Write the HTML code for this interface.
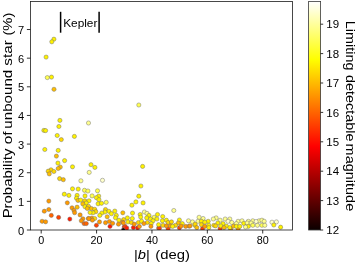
<!DOCTYPE html>
<html><head><meta charset="utf-8"><title>chart</title>
<style>
html,body{margin:0;padding:0;background:#fff;}
svg{display:block;font-family:"Liberation Sans",sans-serif;}
.tk{stroke:#000;stroke-width:0.8;}
.tl{font-size:10.4px;fill:#000;}
.lb{font-size:13.6px;fill:#000;}
circle{stroke:#6a6a6a;stroke-width:0.45;}
</style></head><body>
<svg width="357" height="264" viewBox="0 0 357 264">
<defs>
<linearGradient id="hot" x1="0" y1="1" x2="0" y2="0">
<stop offset="0" stop-color="#0b0000"/>
<stop offset="0.365" stop-color="#ff0000"/>
<stop offset="0.746" stop-color="#ffff00"/>
<stop offset="1" stop-color="#ffffff"/>
</linearGradient>
</defs>
<rect width="357" height="264" fill="#fff"/>
<g style="isolation:isolate;mix-blend-mode:multiply"><rect width="1" height="1" fill="#fff"/></g>
<clipPath id="ax"><rect x="30.4" y="1.45" width="262.1" height="228.55"/></clipPath>
<g clip-path="url(#ax)">
<circle cx="51.3" cy="215.4" r="2.1" fill="#ff6400"/>
<circle cx="58.6" cy="217.4" r="2.1" fill="#ff4000"/>
<circle cx="69.8" cy="219.1" r="2.1" fill="#ff1c00"/>
<circle cx="84.1" cy="223.6" r="2.1" fill="#ff6400"/>
<circle cx="86.3" cy="223.6" r="2.1" fill="#ff6400"/>
<circle cx="96.4" cy="225.3" r="2.1" fill="#ff4000"/>
<circle cx="110.0" cy="226.4" r="2.1" fill="#ff1c00"/>
<circle cx="124.2" cy="227.0" r="2.1" fill="#ff1c00"/>
<circle cx="123.4" cy="230.0" r="2.1" fill="#0b0000"/>
<circle cx="125.1" cy="226.4" r="2.1" fill="#ff4000"/>
<circle cx="126.8" cy="228.1" r="2.1" fill="#ff1c00"/>
<circle cx="133.4" cy="227.6" r="2.1" fill="#ff1c00"/>
<circle cx="137.6" cy="227.9" r="2.1" fill="#ff1c00"/>
<circle cx="158.6" cy="228.1" r="2.1" fill="#ff6400"/>
<circle cx="159.5" cy="228.1" r="2.1" fill="#ff4000"/>
<circle cx="168.1" cy="228.7" r="2.1" fill="#ff4000"/>
<circle cx="179.4" cy="227.9" r="2.1" fill="#ff4000"/>
<circle cx="202.5" cy="228.7" r="2.1" fill="#ff4000"/>
<circle cx="220.1" cy="228.7" r="2.1" fill="#ff4000"/>
<circle cx="230.7" cy="228.7" r="2.1" fill="#ff9a00"/>
<circle cx="238.1" cy="228.7" r="2.1" fill="#ff9a00"/>
<circle cx="53.9" cy="39.2" r="2.1" fill="#fff200"/>
<circle cx="51.8" cy="41.8" r="2.1" fill="#fff200"/>
<circle cx="46.1" cy="57.1" r="2.1" fill="#fff200"/>
<circle cx="47.3" cy="77.6" r="2.1" fill="#ffff50"/>
<circle cx="51.5" cy="77.1" r="2.1" fill="#fff200"/>
<circle cx="54.0" cy="89.3" r="2.1" fill="#ffbe00"/>
<circle cx="59.9" cy="120.4" r="2.1" fill="#fff200"/>
<circle cx="58.9" cy="126.5" r="2.1" fill="#fff200"/>
<circle cx="43.9" cy="130.4" r="2.1" fill="#fff200"/>
<circle cx="45.6" cy="130.6" r="2.1" fill="#fff200"/>
<circle cx="57.2" cy="135.5" r="2.1" fill="#fff200"/>
<circle cx="61.3" cy="139.6" r="2.1" fill="#ffd800"/>
<circle cx="74.4" cy="136.4" r="2.1" fill="#fff200"/>
<circle cx="88.5" cy="123.0" r="2.1" fill="#ffff8c"/>
<circle cx="44.8" cy="149.5" r="2.1" fill="#fff200"/>
<circle cx="58.2" cy="150.4" r="2.1" fill="#fff200"/>
<circle cx="138.8" cy="105.0" r="2.1" fill="#ffff50"/>
<circle cx="56.4" cy="156.1" r="2.1" fill="#ffbe00"/>
<circle cx="64.6" cy="160.6" r="2.1" fill="#fff200"/>
<circle cx="57.9" cy="163.1" r="2.1" fill="#fff200"/>
<circle cx="72.5" cy="166.8" r="2.1" fill="#fff200"/>
<circle cx="60.3" cy="167.1" r="2.1" fill="#ffbe00"/>
<circle cx="58.2" cy="168.5" r="2.1" fill="#ffbe00"/>
<circle cx="51.0" cy="169.8" r="2.1" fill="#ffd800"/>
<circle cx="48.2" cy="171.2" r="2.1" fill="#ffd800"/>
<circle cx="53.9" cy="171.5" r="2.1" fill="#ffd800"/>
<circle cx="49.3" cy="173.9" r="2.1" fill="#ffbe00"/>
<circle cx="59.6" cy="178.6" r="2.1" fill="#ffd800"/>
<circle cx="63.3" cy="179.7" r="2.1" fill="#ffbe00"/>
<circle cx="80.9" cy="180.8" r="2.1" fill="#ffff8c"/>
<circle cx="89.2" cy="172.4" r="2.1" fill="#ffff8c"/>
<circle cx="91.0" cy="164.7" r="2.1" fill="#fff200"/>
<circle cx="94.9" cy="167.4" r="2.1" fill="#fff200"/>
<circle cx="102.5" cy="180.3" r="2.1" fill="#ffffcc"/>
<circle cx="142.6" cy="166.4" r="2.1" fill="#fff200"/>
<circle cx="140.9" cy="186.0" r="2.1" fill="#fff200"/>
<circle cx="48.8" cy="201.1" r="2.1" fill="#ff9a00"/>
<circle cx="67.3" cy="202.8" r="2.1" fill="#ff9a00"/>
<circle cx="48.8" cy="209.5" r="2.1" fill="#ff9a00"/>
<circle cx="44.3" cy="211.2" r="2.1" fill="#ff9a00"/>
<circle cx="80.1" cy="214.9" r="2.1" fill="#ff9a00"/>
<circle cx="82.9" cy="218.8" r="2.1" fill="#ff9a00"/>
<circle cx="81.3" cy="220.8" r="2.1" fill="#ff9a00"/>
<circle cx="42.1" cy="221.3" r="2.1" fill="#ff9a00"/>
<circle cx="45.6" cy="221.8" r="2.1" fill="#ff9a00"/>
<circle cx="72.0" cy="207.8" r="2.1" fill="#ff9a00"/>
<circle cx="74.0" cy="210.4" r="2.1" fill="#ff9a00"/>
<circle cx="74.6" cy="212.7" r="2.1" fill="#ff9a00"/>
<circle cx="77.1" cy="207.2" r="2.1" fill="#ffbe00"/>
<circle cx="72.5" cy="188.8" r="2.1" fill="#fff200"/>
<circle cx="78.2" cy="189.1" r="2.1" fill="#fff200"/>
<circle cx="84.5" cy="190.3" r="2.1" fill="#ffff50"/>
<circle cx="87.9" cy="191.0" r="2.1" fill="#ffff50"/>
<circle cx="97.5" cy="190.8" r="2.1" fill="#ffff50"/>
<circle cx="68.9" cy="195.4" r="2.1" fill="#fff200"/>
<circle cx="64.3" cy="194.2" r="2.1" fill="#fff200"/>
<circle cx="77.1" cy="195.4" r="2.1" fill="#fff200"/>
<circle cx="85.0" cy="195.9" r="2.1" fill="#fff200"/>
<circle cx="92.1" cy="195.9" r="2.1" fill="#ffff50"/>
<circle cx="98.7" cy="196.1" r="2.1" fill="#fff200"/>
<circle cx="76.5" cy="198.2" r="2.1" fill="#fff200"/>
<circle cx="96.4" cy="197.7" r="2.1" fill="#fff200"/>
<circle cx="78.0" cy="200.5" r="2.1" fill="#ffbe00"/>
<circle cx="80.7" cy="200.1" r="2.1" fill="#fff200"/>
<circle cx="84.8" cy="200.8" r="2.1" fill="#ffd800"/>
<circle cx="89.0" cy="200.8" r="2.1" fill="#fff200"/>
<circle cx="98.9" cy="199.7" r="2.1" fill="#fff200"/>
<circle cx="86.2" cy="203.1" r="2.1" fill="#fff200"/>
<circle cx="82.8" cy="203.9" r="2.1" fill="#ffbe00"/>
<circle cx="98.1" cy="203.8" r="2.1" fill="#fff200"/>
<circle cx="101.5" cy="203.3" r="2.1" fill="#fff200"/>
<circle cx="106.2" cy="202.3" r="2.1" fill="#ffff50"/>
<circle cx="85.0" cy="206.7" r="2.1" fill="#fff200"/>
<circle cx="88.5" cy="206.3" r="2.1" fill="#ffd800"/>
<circle cx="87.3" cy="208.5" r="2.1" fill="#ffbe00"/>
<circle cx="91.4" cy="208.5" r="2.1" fill="#ffbe00"/>
<circle cx="94.7" cy="209.3" r="2.1" fill="#ffd800"/>
<circle cx="105.5" cy="209.5" r="2.1" fill="#ffd800"/>
<circle cx="95.8" cy="211.7" r="2.1" fill="#ffd800"/>
<circle cx="93.0" cy="212.8" r="2.1" fill="#fff200"/>
<circle cx="90.1" cy="212.5" r="2.1" fill="#fff200"/>
<circle cx="108.9" cy="211.3" r="2.1" fill="#fff200"/>
<circle cx="114.8" cy="211.1" r="2.1" fill="#fff200"/>
<circle cx="104.9" cy="212.0" r="2.1" fill="#fff200"/>
<circle cx="101.8" cy="213.0" r="2.1" fill="#fff200"/>
<circle cx="111.4" cy="213.7" r="2.1" fill="#fff200"/>
<circle cx="99.8" cy="215.4" r="2.1" fill="#fff200"/>
<circle cx="116.3" cy="215.4" r="2.1" fill="#fff200"/>
<circle cx="107.2" cy="216.8" r="2.1" fill="#ffbe00"/>
<circle cx="115.5" cy="217.7" r="2.1" fill="#fff200"/>
<circle cx="122.8" cy="212.8" r="2.1" fill="#ffbe00"/>
<circle cx="88.4" cy="218.5" r="2.1" fill="#ff9a00"/>
<circle cx="91.8" cy="218.1" r="2.1" fill="#ff9a00"/>
<circle cx="94.7" cy="218.5" r="2.1" fill="#ffd800"/>
<circle cx="92.4" cy="220.2" r="2.1" fill="#ff9a00"/>
<circle cx="99.5" cy="221.9" r="2.1" fill="#ff9a00"/>
<circle cx="105.5" cy="222.7" r="2.1" fill="#ff9a00"/>
<circle cx="109.4" cy="221.5" r="2.1" fill="#ff9a00"/>
<circle cx="112.6" cy="223.3" r="2.1" fill="#ff9a00"/>
<circle cx="118.9" cy="220.2" r="2.1" fill="#fff200"/>
<circle cx="123.6" cy="219.6" r="2.1" fill="#ffd800"/>
<circle cx="122.5" cy="222.2" r="2.1" fill="#ff9a00"/>
<circle cx="118.5" cy="224.2" r="2.1" fill="#ff9a00"/>
<circle cx="88.8" cy="218.6" r="2.1" fill="#ff9a00"/>
<circle cx="138.8" cy="196.2" r="2.1" fill="#fff200"/>
<circle cx="135.9" cy="201.9" r="2.1" fill="#fff200"/>
<circle cx="143.1" cy="202.9" r="2.1" fill="#fff200"/>
<circle cx="131.9" cy="205.2" r="2.1" fill="#fff200"/>
<circle cx="132.5" cy="213.1" r="2.1" fill="#fff200"/>
<circle cx="144.4" cy="212.0" r="2.1" fill="#ffff8c"/>
<circle cx="147.0" cy="213.4" r="2.1" fill="#ffff8c"/>
<circle cx="140.2" cy="214.5" r="2.1" fill="#fff200"/>
<circle cx="157.5" cy="214.5" r="2.1" fill="#fff200"/>
<circle cx="149.0" cy="215.4" r="2.1" fill="#fff200"/>
<circle cx="140.7" cy="217.1" r="2.1" fill="#fff200"/>
<circle cx="146.7" cy="217.9" r="2.1" fill="#fff200"/>
<circle cx="154.1" cy="217.3" r="2.1" fill="#ffff50"/>
<circle cx="127.4" cy="217.9" r="2.1" fill="#fff200"/>
<circle cx="132.3" cy="218.5" r="2.1" fill="#fff200"/>
<circle cx="150.5" cy="219.0" r="2.1" fill="#fff200"/>
<circle cx="156.9" cy="219.0" r="2.1" fill="#fff200"/>
<circle cx="153.0" cy="220.8" r="2.1" fill="#fff200"/>
<circle cx="128.0" cy="221.9" r="2.1" fill="#fff200"/>
<circle cx="131.4" cy="222.5" r="2.1" fill="#ffd800"/>
<circle cx="138.4" cy="222.5" r="2.1" fill="#ffd800"/>
<circle cx="141.6" cy="221.3" r="2.1" fill="#fff200"/>
<circle cx="147.3" cy="222.5" r="2.1" fill="#ffd800"/>
<circle cx="123.4" cy="223.0" r="2.1" fill="#ff9a00"/>
<circle cx="134.2" cy="224.2" r="2.1" fill="#ff9a00"/>
<circle cx="143.9" cy="223.6" r="2.1" fill="#ff9a00"/>
<circle cx="151.2" cy="223.6" r="2.1" fill="#fff200"/>
<circle cx="158.6" cy="224.7" r="2.1" fill="#fff200"/>
<circle cx="139.4" cy="226.5" r="2.1" fill="#ff9a00"/>
<circle cx="150.9" cy="226.4" r="2.1" fill="#ff9a00"/>
<circle cx="173.8" cy="210.5" r="2.1" fill="#ffff8c"/>
<circle cx="162.7" cy="216.5" r="2.1" fill="#fff200"/>
<circle cx="162.4" cy="220.8" r="2.1" fill="#fff200"/>
<circle cx="166.4" cy="220.2" r="2.1" fill="#fff200"/>
<circle cx="179.4" cy="220.0" r="2.1" fill="#fff200"/>
<circle cx="188.5" cy="220.8" r="2.1" fill="#ffff8c"/>
<circle cx="192.5" cy="221.9" r="2.1" fill="#ffff8c"/>
<circle cx="168.1" cy="222.5" r="2.1" fill="#ffd800"/>
<circle cx="171.5" cy="221.9" r="2.1" fill="#ffd800"/>
<circle cx="178.3" cy="223.0" r="2.1" fill="#ffbe00"/>
<circle cx="182.3" cy="223.6" r="2.1" fill="#fff200"/>
<circle cx="163.0" cy="225.3" r="2.1" fill="#ffd800"/>
<circle cx="166.4" cy="225.9" r="2.1" fill="#ff9a00"/>
<circle cx="170.3" cy="225.9" r="2.1" fill="#ff9a00"/>
<circle cx="175.5" cy="225.3" r="2.1" fill="#ffd800"/>
<circle cx="172.6" cy="226.4" r="2.1" fill="#fff200"/>
<circle cx="181.1" cy="226.1" r="2.1" fill="#ff9a00"/>
<circle cx="185.7" cy="226.4" r="2.1" fill="#ff9a00"/>
<circle cx="189.1" cy="226.2" r="2.1" fill="#ff9a00"/>
<circle cx="194.8" cy="225.3" r="2.1" fill="#fff200"/>
<circle cx="199.1" cy="217.3" r="2.1" fill="#ffff8c"/>
<circle cx="203.1" cy="218.5" r="2.1" fill="#ffff8c"/>
<circle cx="216.1" cy="217.9" r="2.1" fill="#ffff8c"/>
<circle cx="213.3" cy="219.0" r="2.1" fill="#ffff8c"/>
<circle cx="220.1" cy="220.2" r="2.1" fill="#ffff8c"/>
<circle cx="225.2" cy="219.0" r="2.1" fill="#ffff8c"/>
<circle cx="229.8" cy="219.0" r="2.1" fill="#ffff8c"/>
<circle cx="228.1" cy="221.3" r="2.1" fill="#ffffcc"/>
<circle cx="198.0" cy="221.3" r="2.1" fill="#ffff8c"/>
<circle cx="201.4" cy="221.3" r="2.1" fill="#fff200"/>
<circle cx="208.2" cy="221.3" r="2.1" fill="#fff200"/>
<circle cx="204.8" cy="222.2" r="2.1" fill="#fff200"/>
<circle cx="217.8" cy="223.0" r="2.1" fill="#fff200"/>
<circle cx="223.0" cy="223.6" r="2.1" fill="#fff200"/>
<circle cx="195.1" cy="224.2" r="2.1" fill="#ffd800"/>
<circle cx="201.4" cy="224.7" r="2.1" fill="#ffd800"/>
<circle cx="208.8" cy="225.3" r="2.1" fill="#fff200"/>
<circle cx="213.9" cy="225.3" r="2.1" fill="#ffd800"/>
<circle cx="215.6" cy="225.9" r="2.1" fill="#ffd800"/>
<circle cx="220.7" cy="225.9" r="2.1" fill="#fff200"/>
<circle cx="226.4" cy="226.1" r="2.1" fill="#fff200"/>
<circle cx="204.8" cy="226.4" r="2.1" fill="#ff9a00"/>
<circle cx="196.8" cy="227.6" r="2.1" fill="#ffbe00"/>
<circle cx="208.8" cy="227.6" r="2.1" fill="#fff200"/>
<circle cx="190.0" cy="225.9" r="2.1" fill="#ff9a00"/>
<circle cx="224.1" cy="227.6" r="2.1" fill="#ffbe00"/>
<circle cx="229.8" cy="227.6" r="2.1" fill="#fff200"/>
<circle cx="238.1" cy="221.3" r="2.1" fill="#ffff8c"/>
<circle cx="242.0" cy="220.8" r="2.1" fill="#ffff8c"/>
<circle cx="248.3" cy="221.3" r="2.1" fill="#ffff8c"/>
<circle cx="252.8" cy="220.8" r="2.1" fill="#ffff8c"/>
<circle cx="259.1" cy="220.8" r="2.1" fill="#ffff8c"/>
<circle cx="261.9" cy="220.2" r="2.1" fill="#ffff8c"/>
<circle cx="264.2" cy="221.3" r="2.1" fill="#ffff8c"/>
<circle cx="231.8" cy="222.5" r="2.1" fill="#ffff8c"/>
<circle cx="243.8" cy="223.4" r="2.1" fill="#fff200"/>
<circle cx="247.2" cy="223.0" r="2.1" fill="#ffff8c"/>
<circle cx="251.1" cy="223.0" r="2.1" fill="#ffff8c"/>
<circle cx="236.4" cy="223.6" r="2.1" fill="#ffff8c"/>
<circle cx="252.8" cy="225.3" r="2.1" fill="#ffff50"/>
<circle cx="257.4" cy="225.3" r="2.1" fill="#ffff8c"/>
<circle cx="261.9" cy="225.3" r="2.1" fill="#ffff50"/>
<circle cx="264.8" cy="225.3" r="2.1" fill="#ffff8c"/>
<circle cx="233.5" cy="226.1" r="2.1" fill="#ffbe00"/>
<circle cx="236.4" cy="226.4" r="2.1" fill="#fff200"/>
<circle cx="239.8" cy="226.4" r="2.1" fill="#fff200"/>
<circle cx="248.3" cy="226.4" r="2.1" fill="#fff200"/>
<circle cx="245.5" cy="227.0" r="2.1" fill="#ffff8c"/>
<circle cx="256.1" cy="221.5" r="2.1" fill="#ffffcc"/>
<circle cx="272.0" cy="222.2" r="2.1" fill="#ffffcc"/>
<circle cx="276.4" cy="221.9" r="2.1" fill="#ffffcc"/>
<circle cx="273.8" cy="225.0" r="2.1" fill="#fff200"/>
<circle cx="280.6" cy="227.2" r="2.1" fill="#fff200"/>
</g>
<rect x="30.4" y="1.45" width="262.1" height="228.55" fill="none" stroke="#1c1c1c" stroke-width="0.8"/>
<rect x="308.6" y="1.45" width="12.0" height="228.55" fill="url(#hot)" stroke="#3a3a3a" stroke-width="0.8"/>
<line x1="41.20" y1="230.0" x2="41.20" y2="233.5" class="tk"/>
<text x="41.20" y="244.0" text-anchor="middle" class="tl" textLength="6.0" lengthAdjust="spacingAndGlyphs">0</text>
<line x1="96.58" y1="230.0" x2="96.58" y2="233.5" class="tk"/>
<text x="96.58" y="244.0" text-anchor="middle" class="tl" textLength="12.0" lengthAdjust="spacingAndGlyphs">20</text>
<line x1="151.96" y1="230.0" x2="151.96" y2="233.5" class="tk"/>
<text x="151.96" y="244.0" text-anchor="middle" class="tl" textLength="12.0" lengthAdjust="spacingAndGlyphs">40</text>
<line x1="207.34" y1="230.0" x2="207.34" y2="233.5" class="tk"/>
<text x="207.34" y="244.0" text-anchor="middle" class="tl" textLength="12.0" lengthAdjust="spacingAndGlyphs">60</text>
<line x1="262.72" y1="230.0" x2="262.72" y2="233.5" class="tk"/>
<text x="262.72" y="244.0" text-anchor="middle" class="tl" textLength="12.0" lengthAdjust="spacingAndGlyphs">80</text>
<line x1="26.9" y1="230.00" x2="30.4" y2="230.00" class="tk"/>
<text x="24.3" y="234.50" text-anchor="end" class="tl" textLength="6.2" lengthAdjust="spacingAndGlyphs">0</text>
<line x1="26.9" y1="201.36" x2="30.4" y2="201.36" class="tk"/>
<text x="24.3" y="205.86" text-anchor="end" class="tl" textLength="6.2" lengthAdjust="spacingAndGlyphs">1</text>
<line x1="26.9" y1="172.72" x2="30.4" y2="172.72" class="tk"/>
<text x="24.3" y="177.22" text-anchor="end" class="tl" textLength="6.2" lengthAdjust="spacingAndGlyphs">2</text>
<line x1="26.9" y1="144.08" x2="30.4" y2="144.08" class="tk"/>
<text x="24.3" y="148.58" text-anchor="end" class="tl" textLength="6.2" lengthAdjust="spacingAndGlyphs">3</text>
<line x1="26.9" y1="115.44" x2="30.4" y2="115.44" class="tk"/>
<text x="24.3" y="119.94" text-anchor="end" class="tl" textLength="6.2" lengthAdjust="spacingAndGlyphs">4</text>
<line x1="26.9" y1="86.80" x2="30.4" y2="86.80" class="tk"/>
<text x="24.3" y="91.30" text-anchor="end" class="tl" textLength="6.2" lengthAdjust="spacingAndGlyphs">5</text>
<line x1="26.9" y1="58.16" x2="30.4" y2="58.16" class="tk"/>
<text x="24.3" y="62.66" text-anchor="end" class="tl" textLength="6.2" lengthAdjust="spacingAndGlyphs">6</text>
<line x1="26.9" y1="29.52" x2="30.4" y2="29.52" class="tk"/>
<text x="24.3" y="34.02" text-anchor="end" class="tl" textLength="6.2" lengthAdjust="spacingAndGlyphs">7</text>
<line x1="320.6" y1="230.00" x2="323.20000000000005" y2="230.00" class="tk"/>
<text x="326.3" y="234.10" class="tl" textLength="12.8" lengthAdjust="spacingAndGlyphs">12</text>
<line x1="320.6" y1="200.60" x2="323.20000000000005" y2="200.60" class="tk"/>
<text x="326.3" y="204.70" class="tl" textLength="12.8" lengthAdjust="spacingAndGlyphs">13</text>
<line x1="320.6" y1="171.20" x2="323.20000000000005" y2="171.20" class="tk"/>
<text x="326.3" y="175.30" class="tl" textLength="12.8" lengthAdjust="spacingAndGlyphs">14</text>
<line x1="320.6" y1="141.80" x2="323.20000000000005" y2="141.80" class="tk"/>
<text x="326.3" y="145.90" class="tl" textLength="12.8" lengthAdjust="spacingAndGlyphs">15</text>
<line x1="320.6" y1="112.40" x2="323.20000000000005" y2="112.40" class="tk"/>
<text x="326.3" y="116.50" class="tl" textLength="12.8" lengthAdjust="spacingAndGlyphs">16</text>
<line x1="320.6" y1="83.00" x2="323.20000000000005" y2="83.00" class="tk"/>
<text x="326.3" y="87.10" class="tl" textLength="12.8" lengthAdjust="spacingAndGlyphs">17</text>
<line x1="320.6" y1="53.60" x2="323.20000000000005" y2="53.60" class="tk"/>
<text x="326.3" y="57.70" class="tl" textLength="12.8" lengthAdjust="spacingAndGlyphs">18</text>
<line x1="320.6" y1="24.20" x2="323.20000000000005" y2="24.20" class="tk"/>
<text x="326.3" y="28.30" class="tl" textLength="12.8" lengthAdjust="spacingAndGlyphs">19</text>
<line x1="60.6" y1="11.8" x2="60.6" y2="32.7" stroke="#000" stroke-width="1.5"/>
<line x1="99.1" y1="11.8" x2="99.1" y2="32.7" stroke="#000" stroke-width="1.5"/>
<text x="63.2" y="26.7" class="tl" textLength="34.2" lengthAdjust="spacingAndGlyphs">Kepler</text>
<text transform="translate(11.6,218.37) rotate(-90)" class="lb" textLength="69.74" lengthAdjust="spacingAndGlyphs">Probability</text>
<text transform="translate(11.6,144.35) rotate(-90)" class="lb" textLength="12.97" lengthAdjust="spacingAndGlyphs">of</text>
<text transform="translate(11.6,128.65) rotate(-90)" class="lb" textLength="58.88" lengthAdjust="spacingAndGlyphs">unbound</text>
<text transform="translate(11.6,65.67) rotate(-90)" class="lb" textLength="25.48" lengthAdjust="spacingAndGlyphs">star</text>
<text transform="translate(11.6,35.58) rotate(-90)" class="lb" textLength="23.04" lengthAdjust="spacingAndGlyphs">(%)</text>
<text transform="translate(346.4,20.86) rotate(90)" class="lb" textLength="49.51" lengthAdjust="spacingAndGlyphs">Limiting</text>
<text transform="translate(346.4,74.94) rotate(90)" class="lb" textLength="66.45" lengthAdjust="spacingAndGlyphs">detectable</text>
<text transform="translate(346.4,143.57) rotate(90)" class="lb" textLength="67.62" lengthAdjust="spacingAndGlyphs">magnitude</text>
<text x="133.98" y="259.4" class="lb" textLength="15.86" lengthAdjust="spacingAndGlyphs">|<tspan font-style='italic'>b</tspan>|</text>
<text x="155.29" y="259.4" class="lb" textLength="34.64" lengthAdjust="spacingAndGlyphs">(deg)</text>
</svg>
</body></html>
